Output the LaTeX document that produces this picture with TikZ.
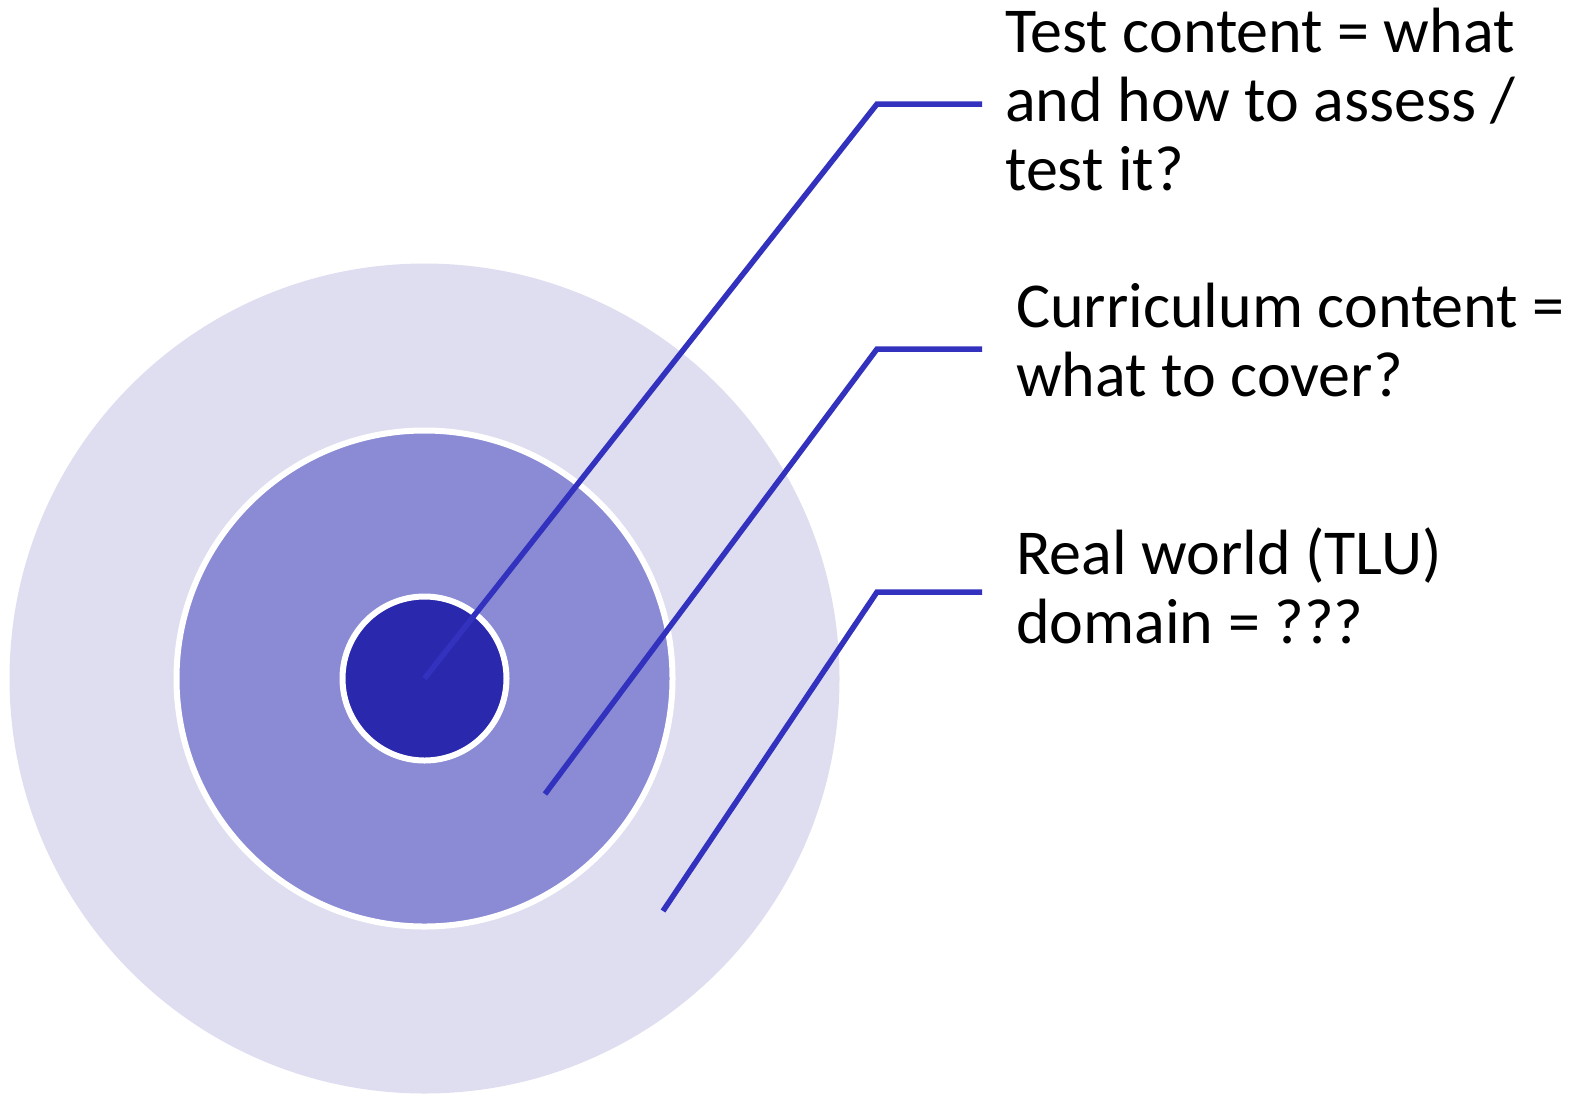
\documentclass[tikz,border=0pt]{standalone}
\usepackage{fontspec}
\setmainfont{Carlito}
\definecolor{ringOuter}{HTML}{DFDEF0}
\definecolor{ringMid}{HTML}{8A8BD4}
\definecolor{ringCore}{HTML}{2A28AD}
\definecolor{leader}{HTML}{3232BE}
\tikzset{
  ring/.style={circle, inner sep=0pt, draw=white, line width=6pt},
  leaderline/.style={draw=leader, line width=5.5pt},
  caption/.style={anchor=base west, inner sep=0pt, align=left,
    font=\fontsize{64}{68.7}\selectfont}
}
\begin{document}
\begin{tikzpicture}[x=1pt, y=-1pt]
  \useasboundingbox (0,0) rectangle (1581,1093);
  \begin{scope}
    \clip (0,0) rectangle (1581,1093);
    % concentric domains
    \node[circle, inner sep=0pt, fill=ringOuter, minimum size=830pt] (outer) at (424.5,678.5) {};
    \node[ring, fill=ringMid, minimum size=496pt] (middle) at (424.5,678.5) {};
    \node[ring, fill=ringCore, minimum size=164pt] (core) at (424.5,678.5) {};
  \end{scope}
  % leader line ends inside the rings
  \coordinate (p1) at (core.center);
  \coordinate (p2) at (545,794);
  \coordinate (p3) at (663,911);
  \coordinate (k1) at (877,104);
  \coordinate (k2) at (877,349);
  \coordinate (k3) at (877,592);
  \coordinate (e1) at (982,104);
  \coordinate (e2) at (982,349);
  \coordinate (e3) at (982,592);
  \draw[leaderline] (p1) -- (k1) -- (e1);
  \draw[leaderline] (p2) -- (k2) -- (e2);
  \draw[leaderline] (p3) -- (k3) -- (e3);
  % captions (anchored at the baseline of their last line)
  \node[caption] (t1) at (1005,190) {Test content = what\\and how to assess /\\test it?};
  \node[caption] (t2) at (1016,396) {Curriculum content =\\what to cover?};
  \node[caption] (t3) at (1016,643) {Real world (TLU)\\domain = ???};
\end{tikzpicture}
\end{document}
